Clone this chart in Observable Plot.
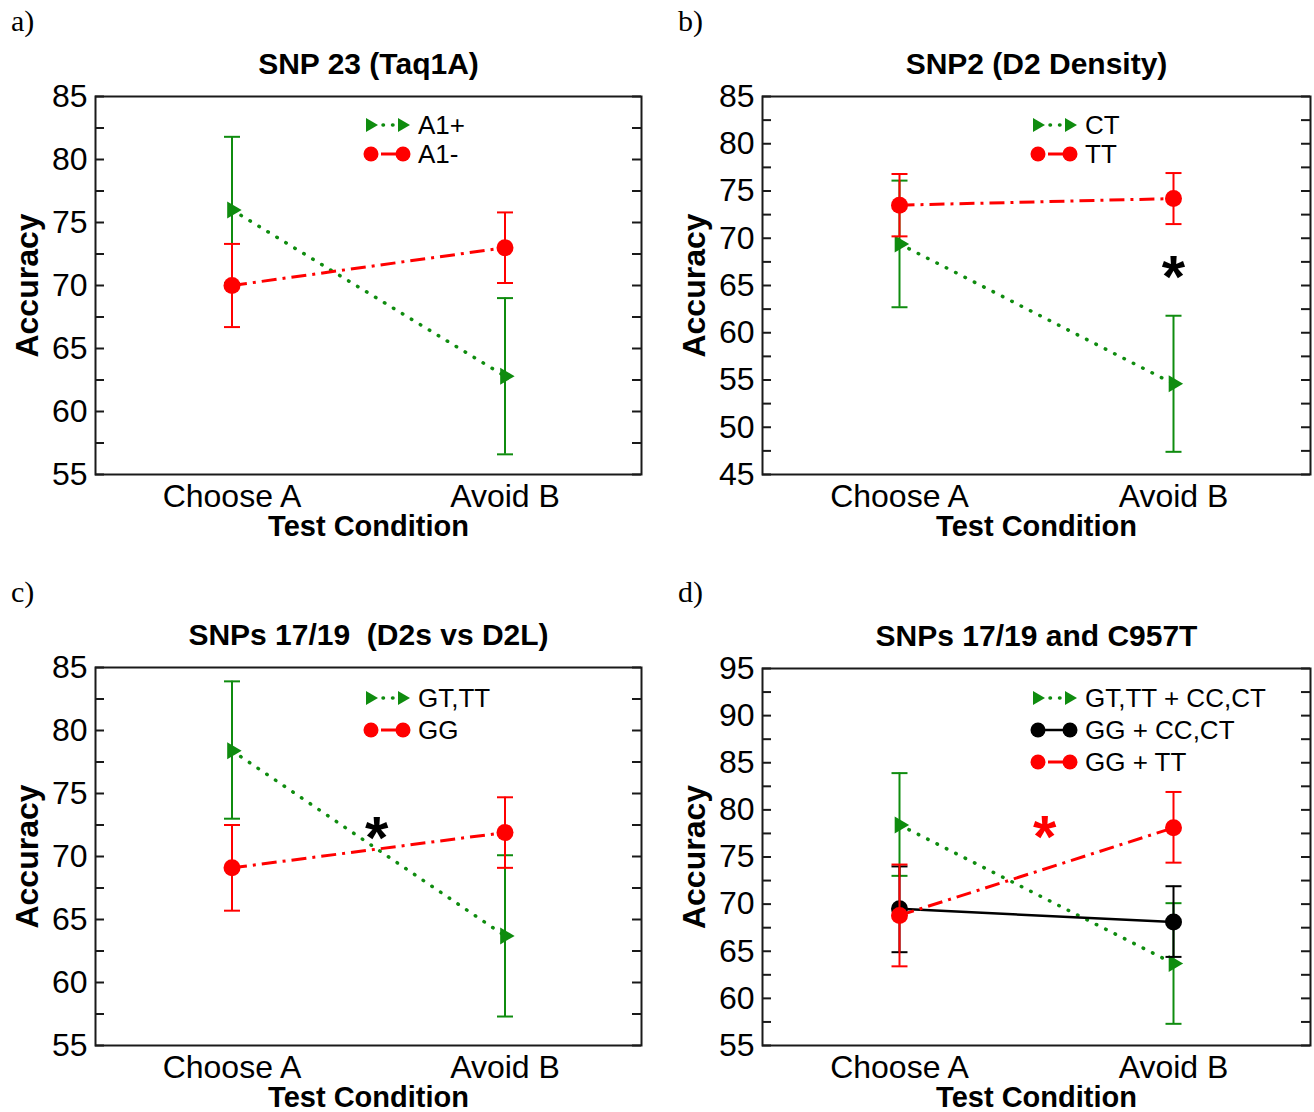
<!DOCTYPE html>
<html><head><meta charset="utf-8">
<script src="https://cdn.jsdelivr.net/npm/d3@7"></script>
<script src="https://cdn.jsdelivr.net/npm/@observablehq/plot@0.6"></script>
<style>
body{margin:0;background:#fff;}
#root{position:relative;width:1314px;height:1112px;background:#fff;overflow:hidden;font-family:"Liberation Sans",Arial,sans-serif;}
.panel{position:absolute;}
.panel svg{position:absolute;left:0;top:0;}
.letter{position:absolute;font-family:"Liberation Serif","Times New Roman",serif;font-size:30px;line-height:1;color:#000;}
</style></head><body><div id="root"></div>
<script>
// ---------- data ----------
const conditions = ["Choose A", "Avoid B"];
const conditionIndex = [0, 1];

// a) SNP 23 (Taq1A)
const aTitle = "SNP 23 (Taq1A)";
const aYTicks = [55, 60, 65, 70, 75, 80, 85];
const aA1pMean = [76.0, 62.8], aA1pLo = [70.2, 56.6], aA1pHi = [81.8, 69.0];
const aA1mMean = [70.0, 73.0], aA1mLo = [66.7, 70.2], aA1mHi = [73.3, 75.8];

// b) SNP2 (D2 Density)
const bTitle = "SNP2 (D2 Density)";
const bYTicks = [45, 50, 55, 60, 65, 70, 75, 80, 85];
const bCTMean = [69.4, 54.6], bCTLo = [62.7, 47.4], bCTHi = [76.1, 61.8];
const bTTMean = [73.5, 74.2], bTTLo = [70.2, 71.5], bTTHi = [76.8, 76.9];
const bStar = [{x: 1, y: 66.8}];

// c) SNPs 17/19 (D2s vs D2L)
const cTitle = "SNPs 17/19  (D2s vs D2L)";
const cYTicks = [55, 60, 65, 70, 75, 80, 85];
const cGTMean = [78.4, 63.7], cGTLo = [73.0, 57.3], cGTHi = [83.9, 70.1];
const cGGMean = [69.1, 71.9], cGGLo = [65.7, 69.1], cGGHi = [72.5, 74.7];
const cStar = [{x: 0.53, y: 72.1}];

// d) SNPs 17/19 and C957T
const dTitle = "SNPs 17/19 and C957T";
const dYTicks = [55, 60, 65, 70, 75, 80, 85, 90, 95];
const dG1Mean = [78.4, 63.7], dG1Lo = [73.0, 57.3], dG1Hi = [83.9, 70.1];
const dG2Mean = [69.5, 68.1], dG2Lo = [64.9, 64.4], dG2Hi = [74.0, 71.9];
const dG3Mean = [68.8, 78.1], dG3Lo = [63.4, 74.4], dG3Hi = [74.2, 81.9];
const dStar = [{x: 0.53, y: 78.0}];

// ---------- styles ----------
const GREEN = "#0f8c0f", RED = "#ff0000", BLACK = "#000000";
const sGreen = {color: GREEN, dash: "0.5,10", cap: "round", width: 3.5, marker: "tri", r: 8.5};
const sRed = {color: RED, dash: "15,6,3,6", cap: "butt", width: 3, marker: "circle", r: 8.5};
const sBlack = {color: BLACK, dash: null, cap: "butt", width: 2.5, marker: "circle", r: 8.5};

const triRight = {draw(ctx, size) {
  const r = Math.sqrt(size / Math.PI), hh = r, w = r * 1.7;
  ctx.moveTo(2 * w / 3, 0); ctx.lineTo(-w / 3, -hh); ctx.lineTo(-w / 3, hh); ctx.closePath();
}};
const capSym = {draw(ctx, size) {
  const r = Math.sqrt(size / Math.PI);
  ctx.moveTo(-r, 0); ctx.lineTo(r, 0);
}};

function rows(mean, lo, hi) {
  return conditionIndex.map(i => ({x: i, y: mean[i], lo: lo[i], hi: hi[i]}));
}

function halfTicks(ticks) {
  const out = [];
  for (let i = 0; i < ticks.length; i++) {
    out.push(ticks[i]);
    if (i < ticks.length - 1) out.push((ticks[i] + ticks[i + 1]) / 2);
  }
  return out;
}

const root = document.getElementById("root");

function makePanel(cfg) {
  const plotW = cfg.width - cfg.mL - cfg.mR;
  const allTicks = halfTicks(cfg.yTicks);
  const marks = [
    Plot.ruleY(allTicks, {y: d => d, stroke: "#1a1a1a", strokeWidth: 2, insetRight: plotW - 9}),
    Plot.ruleY(allTicks, {y: d => d, stroke: "#1a1a1a", strokeWidth: 2, insetLeft: plotW - 9}),
    Plot.axisY(cfg.yTicks, {tickSize: 0, tickPadding: 8, fontSize: 32, label: null}),
    Plot.axisX(conditionIndex, {tickSize: 0, tickPadding: 10, fontSize: 32, label: null, tickFormat: i => conditions[i]}),
    Plot.text([cfg.title], {text: d => d, frameAnchor: "top", lineAnchor: "middle", textAnchor: "middle", dy: -32, fontSize: 30, fontWeight: "bold"}),
    Plot.text(["Accuracy"], {text: d => d, frameAnchor: "left", lineAnchor: "middle", textAnchor: "middle", dx: -68, rotate: -90, fontSize: 32, fontWeight: "bold"}),
    Plot.text(["Test Condition"], {text: d => d, frameAnchor: "bottom", lineAnchor: "middle", textAnchor: "middle", dy: 52, fontSize: 29, fontWeight: "bold"})
  ];
  for (const s of cfg.series) {
    const st = s.style, data = s.data;
    marks.push(Plot.ruleX(data, {x: "x", y1: "lo", y2: "hi", stroke: st.color, strokeWidth: 2}));
    marks.push(Plot.dot(data, {x: "x", y: "lo", symbol: capSym, r: 8, stroke: st.color, strokeWidth: 2, fill: "none"}));
    marks.push(Plot.dot(data, {x: "x", y: "hi", symbol: capSym, r: 8, stroke: st.color, strokeWidth: 2, fill: "none"}));
    const lineOpts = {x: "x", y: "y", stroke: st.color, strokeWidth: st.width, strokeLinecap: st.cap};
    if (st.dash) lineOpts.strokeDasharray = st.dash;
    marks.push(Plot.line(data, lineOpts));
    marks.push(Plot.dot(data, {x: "x", y: "y", r: st.r, symbol: st.marker === "tri" ? triRight : "circle", fill: st.color, stroke: "none"}));
  }
  if (cfg.star) {
    marks.push(Plot.text(cfg.star.data, {x: "x", y: "y", text: () => "*", fill: cfg.star.color, fontSize: 60, fontWeight: "bold", dy: 9}));
  }
  marks.push(Plot.frame({stroke: "#1a1a1a", strokeWidth: 2}));

  const chart = Plot.plot({
    width: cfg.width, height: cfg.height,
    marginLeft: cfg.mL, marginRight: cfg.mR, marginTop: cfg.mT, marginBottom: cfg.mB,
    x: {type: "linear", domain: [-0.5, 1.5]},
    y: {domain: cfg.yDomain},
    style: {fontFamily: "Liberation Sans, Arial, sans-serif", fontSize: "32px", color: "#000", background: "transparent", overflow: "visible"},
    marks
  });

  const div = document.createElement("div");
  div.className = "panel";
  div.style.left = cfg.left + "px"; div.style.top = cfg.top + "px";
  div.style.width = cfg.width + "px"; div.style.height = cfg.height + "px";
  div.appendChild(chart);

  const letter = document.createElement("div");
  letter.className = "letter";
  letter.textContent = cfg.letter;
  letter.style.left = "11px"; letter.style.top = "6px";
  div.appendChild(letter);

  // legend overlay
  const svg = d3.select(div).append("svg").attr("width", cfg.width).attr("height", cfg.height);
  const lg = cfg.legend;
  cfg.series.forEach((s, i) => {
    const st = s.style, y = lg.y0 + i * lg.dy, x1 = 371, x2 = 403;
    const g = svg.append("g");
    if (st.marker === "tri") {
      g.append("line").attr("x1", x1 + 12).attr("x2", x2 - 6).attr("y1", y).attr("y2", y)
        .attr("stroke", st.color).attr("stroke-width", 3.5).attr("stroke-linecap", "round").attr("stroke-dasharray", "0.5,9");
      const tri = (cx) => `M${cx + 7},${y} L${cx - 5},${y - 7} L${cx - 5},${y + 7} Z`;
      g.append("path").attr("d", tri(x1)).attr("fill", st.color);
      g.append("path").attr("d", tri(x2)).attr("fill", st.color);
    } else {
      g.append("line").attr("x1", st.dash ? x1 + 10 : x1).attr("x2", st.dash ? x2 - 7 : x2).attr("y1", y).attr("y2", y)
        .attr("stroke", st.color).attr("stroke-width", st.dash ? 3 : 2.5);
      g.append("circle").attr("cx", x1).attr("cy", y).attr("r", 7.5).attr("fill", st.color);
      g.append("circle").attr("cx", x2).attr("cy", y).attr("r", 7.5).attr("fill", st.color);
    }
    g.append("text").attr("x", 418).attr("y", y + 9).text(s.label)
      .attr("font-family", "Liberation Sans, Arial, sans-serif").attr("font-size", 26).attr("fill", "#000");
  });

  root.appendChild(div);
}

makePanel({
  letter: "a)", title: aTitle, left: 0, top: 0, width: 657, height: 556,
  mL: 95, mR: 16, mT: 96, mB: 82, yDomain: [55, 85], yTicks: aYTicks,
  series: [
    {label: "A1+", style: sGreen, data: rows(aA1pMean, aA1pLo, aA1pHi)},
    {label: "A1-", style: sRed, data: rows(aA1mMean, aA1mLo, aA1mHi)}
  ],
  legend: {y0: 125, dy: 29}
});

makePanel({
  letter: "b)", title: bTitle, left: 667, top: 0, width: 647, height: 556,
  mL: 95, mR: 4, mT: 96, mB: 82, yDomain: [45, 85], yTicks: bYTicks,
  series: [
    {label: "CT", style: sGreen, data: rows(bCTMean, bCTLo, bCTHi)},
    {label: "TT", style: sRed, data: rows(bTTMean, bTTLo, bTTHi)}
  ],
  star: {data: bStar, color: BLACK},
  legend: {y0: 125, dy: 29}
});

makePanel({
  letter: "c)", title: cTitle, left: 0, top: 571, width: 657, height: 541,
  mL: 95, mR: 16, mT: 96, mB: 67, yDomain: [55, 85], yTicks: cYTicks,
  series: [
    {label: "GT,TT", style: sGreen, data: rows(cGTMean, cGTLo, cGTHi)},
    {label: "GG", style: sRed, data: rows(cGGMean, cGGLo, cGGHi)}
  ],
  star: {data: cStar, color: BLACK},
  legend: {y0: 127, dy: 32}
});

makePanel({
  letter: "d)", title: dTitle, left: 667, top: 571, width: 647, height: 541,
  mL: 95, mR: 4, mT: 97, mB: 67, yDomain: [55, 95], yTicks: dYTicks,
  series: [
    {label: "GT,TT + CC,CT", style: sGreen, data: rows(dG1Mean, dG1Lo, dG1Hi)},
    {label: "GG + CC,CT", style: sBlack, data: rows(dG2Mean, dG2Lo, dG2Hi)},
    {label: "GG + TT", style: sRed, data: rows(dG3Mean, dG3Lo, dG3Hi)}
  ],
  star: {data: dStar, color: RED},
  legend: {y0: 127, dy: 32}
});
</script></body></html>
